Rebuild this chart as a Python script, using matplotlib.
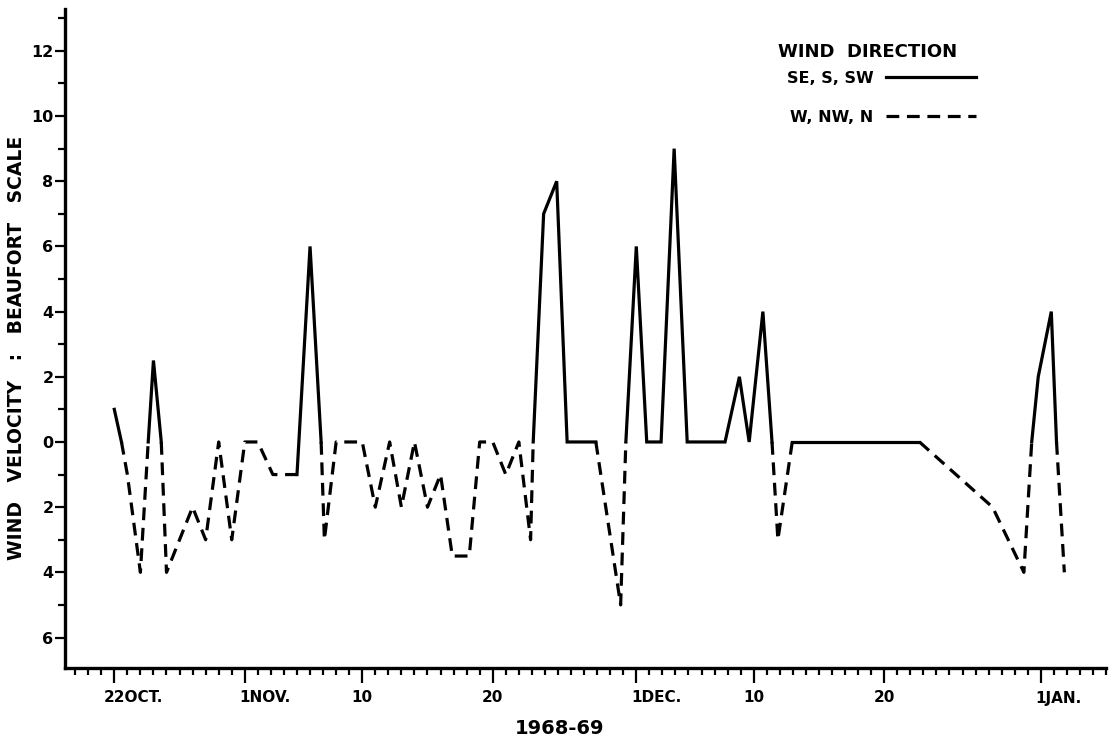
import matplotlib
matplotlib.use("Agg")
import matplotlib.pyplot as plt
from matplotlib.ticker import FixedLocator, FuncFormatter
from matplotlib.transforms import blended_transform_factory, offset_copy

# day 0 = 22 Oct 1968; force in Beaufort, +ve = SE/S/SW, -ve = W/NW/N
day = [0, 0.55, 1, 2, 2.6, 3, 3.6, 4, 6, 7, 8, 9, 10, 11, 12.15, 14, 15, 15.85,
       16.1, 17, 19, 20, 21.1, 22, 23, 24, 25, 25.9, 27.2, 28, 29, 30, 31, 31.9,
       32.1, 32.9, 33.9, 34.7, 36.9, 38.8, 39.2, 40, 40.8, 41.9, 42.9, 43.9,
       46.8, 47.9, 48.65, 49.7, 50.4, 50.85, 51.95, 61.7, 67.3, 69.7, 70.3,
       70.8, 71.8, 72.2, 72.8]
force = [1, 0, -1, -4, 0, 2.5, 0, -4, -2, -3, 0, -3, 0, 0, -1, -1, 6, 0,
         -3, 0, 0, -2, 0, -2, 0, -2, -1, -3.5, -3.5, 0, 0, -1, 0, -3,
         0, 7, 8, 0, 0, -5, 0, 6, 0, 0, 9, 0,
         0, 2, 0, 4, 0, -3, 0, 0, -2, -4, 0,
         2, 4, 0, -4]
# wind direction group of each segment between consecutive readings
seg_dir = ("S" + "NNN" + "SS" + "N" * 9 + "SS" + "N" * 17 + "SSSS" + "NN"
           + "S" * 10 + "NN" + "S" + "NNN" + "SSS" + "N")

tick_days = [0, 10, 19, 29, 40, 49, 59, 71]
tick_labels = ["22OCT.", "1NOV.", "10", "20", "1DEC.", "10", "20", "1JAN."]
y_major = [-6, -4, -2, 0, 2, 4, 6, 8, 10, 12]
y_minor = [-5, -3, -1, 1, 3, 5, 7, 9, 11, 13]

assert len(day) == len(force) == len(seg_dir) + 1

plt.rcParams["font.family"] = ["DejaVu Sans"]
plt.rcParams["font.weight"] = "bold"

fig = plt.figure(figsize=(11.19, 7.44), dpi=100)
ax = fig.add_axes([64.7 / 1119, 1 - 667.5 / 744, 1041.4 / 1119, 659 / 744])

styles = {"S": dict(ls="-"), "N": dict(ls=(0, (4, 2.4)))}
labels = {"S": "SE, S, SW", "N": "W, NW, N"}
handles = {}

# draw runs of segments sharing a direction as one polyline
start = 0
for i in range(1, len(seg_dir) + 1):
    if i == len(seg_dir) or seg_dir[i] != seg_dir[start]:
        d = seg_dir[start]
        ln, = ax.plot(day[start:i + 1], force[start:i + 1], color="black",
                      lw=2.3, solid_joinstyle="miter", **styles[d])
        handles.setdefault(d, ln)
        start = i

ax.set_xlim(-3.8, 76)
ax.set_ylim(-6.92, 13.3)

for side in ("top", "right"):
    ax.spines[side].set_visible(False)
for side in ("left", "bottom"):
    ax.spines[side].set_linewidth(2.4)

ax.xaxis.set_major_locator(FixedLocator(tick_days))
ax.xaxis.set_minor_locator(FixedLocator(range(-3, 77)))
ax.tick_params(axis="x", which="major", length=11, width=1.6, labelbottom=False)
ax.tick_params(axis="x", which="minor", length=5, width=1.6)

ax.yaxis.set_major_locator(FixedLocator(y_major))
ax.yaxis.set_minor_locator(FixedLocator(y_minor))
ax.yaxis.set_major_formatter(FuncFormatter(lambda v, p: f"{abs(v):.0f}"))
ax.tick_params(axis="y", which="major", length=7.5, width=1.6, pad=0.5, labelsize=11.5)
ax.tick_params(axis="y", which="minor", length=5, width=1.6)

# date labels: leading number centred on its tick, month name running right
fig.canvas.draw()
renderer = fig.canvas.get_renderer()
base = blended_transform_factory(ax.transData, ax.transAxes)
for d, lab in zip(tick_days, tick_labels):
    num = "".join(c for c in lab if c.isdigit())
    tmp = fig.text(0, 0, num, fontsize=11)
    w = tmp.get_window_extent(renderer).width
    tmp.remove()
    tr = offset_copy(base, fig=fig, x=-w / 2, y=-23, units="dots")
    ax.text(d, 0, lab, transform=tr, ha="left", va="top", fontsize=11)

fig.text(560 / 1119, 1 - 729 / 744, "1968-69", ha="center", va="center", fontsize=14)
fig.text(17 / 1119, 1 - 348 / 744, "WIND   VELOCITY   :   BEAUFORT   SCALE",
         rotation=90, ha="center", va="center", fontsize=13.5)

fig.text(778 / 1119, 1 - 52 / 744, "WIND  DIRECTION", ha="left", va="center",
         fontsize=13)
ax.legend([handles["S"], handles["N"]], [labels["S"], labels["N"]],
          fontsize=11.5, markerfirst=False, frameon=False,
          handlelength=5.6, handletextpad=0.8, labelspacing=1.5,
          loc="upper left", bbox_to_anchor=(787 / 1119, 1 - 71 / 744),
          bbox_transform=fig.transFigure, borderpad=0, borderaxespad=0)

fig.savefig("out.png", dpi=100)
